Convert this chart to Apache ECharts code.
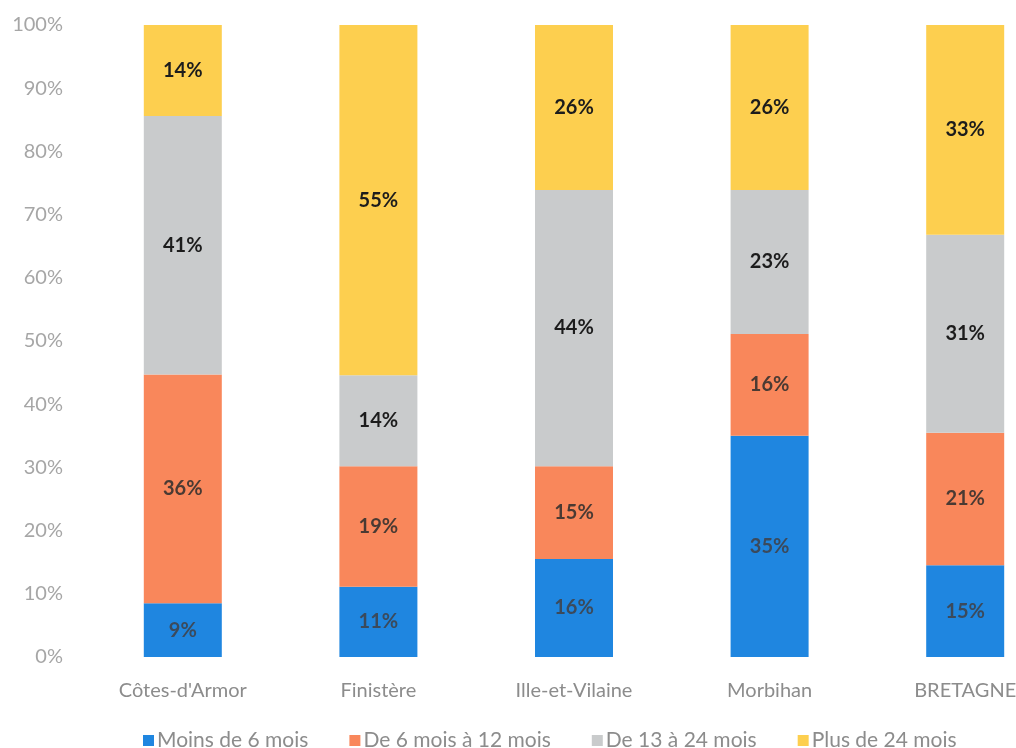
<!DOCTYPE html>
<html><head><meta charset="utf-8">
<script src="https://cdn.jsdelivr.net/npm/echarts@6/dist/echarts.min.js"></script>
<style>html,body{margin:0;padding:0;background:#fff}#c{width:1016px;height:748px}</style>
</head><body><div id="c"></div>
<script>
const categories = ["Côtes-d'Armor", "Finistère", "Ille-et-Vilaine", "Morbihan", "BRETAGNE"];
const seriesNames = ["Moins de 6 mois", "De 6 mois à 12 mois", "De 13 à 24 mois", "Plus de 24 mois"];
const moins6 = [8.5, 11.1, 15.5, 35.0, 14.5];
const de6a12 = [36.2, 19.1, 14.7, 16.1, 21.0];
const de13a24 = [40.9, 14.4, 43.7, 22.8, 31.3];
const plus24 = [14.4, 55.4, 26.1, 26.1, 33.2];
const colors = ["#1f86e0", "#f9875b", "#c9cbcc", "#fdcf4f"];
const labelColors = ["#3b4a5c", "#4a3a33", "#1c1c1c", "#1c1c1c"];
const font = "Lato, 'Open Sans', sans-serif";

const chart = echarts.init(document.getElementById('c'), null, {renderer: 'canvas'});
const datas = [moins6, de6a12, de13a24, plus24];
chart.setOption({
  animation: false,
  backgroundColor: '#fff',
  grid: {left: 85, width: 978, top: 25, height: 632, containLabel: false, outerBoundsMode: 'none'},
  legend: {
    left: 138, top: 725, itemWidth: 11, itemHeight: 11, itemGap: 41,
    icon: 'rect',
    textStyle: {color: '#8c8c8c', fontSize: 21, fontFamily: font, padding: [0,0,0,-2]},
    data: seriesNames
  },
  xAxis: {
    type: 'category', data: categories,
    axisLine: {show: false}, axisTick: {show: false},
    axisLabel: {color: '#8c8c8c', fontSize: 20, fontFamily: font, margin: 24}
  },
  yAxis: {
    type: 'value', min: 0, max: 100, interval: 10,
    splitLine: {show: false}, axisLine: {show: false}, axisTick: {show: false},
    axisLabel: {color: '#a6a6a6', fontSize: 20, fontFamily: font, margin: 22, formatter: '{value}%'}
  },
  series: seriesNames.map((n, i) => ({
    name: n, type: 'bar', stack: 'total', barWidth: 78,
    itemStyle: {color: colors[i]},
    label: {
      show: true, position: 'inside', color: labelColors[i], fontWeight: 'bold',
      fontSize: 20, fontFamily: font,
      formatter: p => Math.round(p.value) + '%'
    },
    data: datas[i]
  }))
});
</script></body></html>
